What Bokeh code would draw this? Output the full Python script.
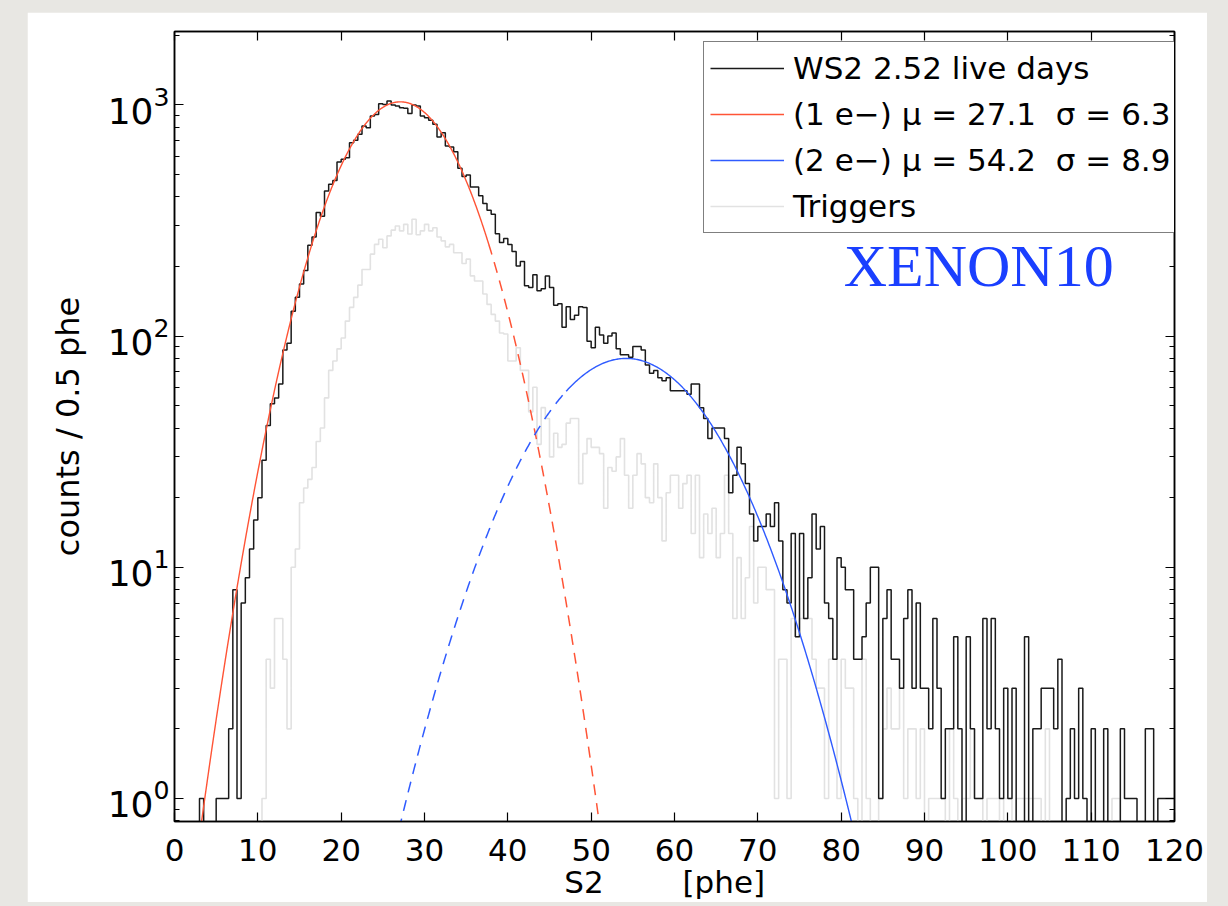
import numpy as np
from bokeh.plotting import figure
from bokeh.models import LinearAxis, LogAxis, FixedTicker, Legend, LegendItem, Label, Range1d
from bokeh.embed import file_html
from bokeh.resources import INLINE

# ---------------- data ----------------
bin_width = 0.5
x_lo, x_hi = 0, 120
y_lo, y_hi = 0.795, 2075

# WS2 2.52 live days : counts per 0.5 phe bin, bins start at 0.0, 0.5, ... 119.5
ws2_counts = [
    0, 0, 0, 0, 0, 0, 1, 0, 0, 0,
    1, 1, 1, 2, 8, 1, 7, 9, 12, 16,
    20, 29, 41, 51, 54, 62, 87, 93, 128, 147,
    168, 192, 247, 268, 342, 330, 424, 453, 471, 566,
    581, 590, 685, 702, 745, 809, 796, 894, 909, 1011,
    1004, 1038, 998, 989, 972, 967, 916, 998, 989, 894,
    879, 857, 824, 726, 757, 663, 657, 627, 531, 490,
    497, 441, 441, 404, 374, 350, 336, 277, 254, 264,
    249, 232, 201, 210, 165, 162, 184, 157, 160, 182,
    162, 136, 138, 109, 134, 118, 123, 134, 133, 95,
    89, 109, 101, 93, 100, 103, 88, 83, 83, 81,
    90, 90, 87, 75, 69, 71, 66, 64, 66, 58,
    58, 58, 58, 56, 62, 62, 49, 44, 36, 40,
    40, 40, 36, 21, 25, 33, 28, 23, 17, 13,
    15, 15, 17, 15, 19, 13, 8, 7, 14, 5,
    14, 6, 9, 17, 12, 15, 7, 6, 4, 11,
    10, 8, 8, 4, 4, 5, 7, 10, 10, 1,
    6, 8, 4, 4, 3, 6, 8, 3, 7, 3,
    3, 2, 6, 3, 1, 2, 2, 5, 2, 0,
    5, 2, 1, 1, 6, 2, 6, 2, 1, 3,
    1, 3, 0, 0, 5, 0, 2, 2, 3, 3,
    3, 2, 4, 0, 1, 2, 1, 3, 1, 0,
    2, 0, 0, 2, 0, 0, 0, 2, 1, 1,
    1, 0, 0, 2, 2, 0, 1, 1, 1, 1,
]

# Triggers : counts per 0.5 phe bin
trigger_counts = [
    0, 0, 0, 0, 0, 0, 0, 0, 0, 0,
    0, 0, 0, 0, 0, 0, 0, 0, 0, 0,
    0, 1, 4, 3, 6, 6, 4, 2, 10, 12,
    19, 22, 24, 27, 35, 40, 54, 71, 78, 88,
    98, 116, 133, 147, 166, 194, 194, 226, 249, 262,
    241, 271, 287, 299, 285, 304, 276, 320, 274, 285,
    304, 285, 294, 268, 258, 243, 249, 229, 229, 206,
    215, 182, 173, 173, 152, 137, 124, 116, 103, 102,
    78, 78, 89, 71, 71, 47, 60, 34, 49, 44,
    30, 38, 33, 34, 42, 44, 44, 23, 31, 36,
    33, 33, 31, 18, 27, 26, 30, 36, 25, 18,
    25, 31, 28, 20, 19, 28, 20, 13, 21, 25,
    25, 18, 23, 25, 14, 25, 11, 17, 14, 18,
    11, 14, 25, 14, 6, 11, 6, 9, 15, 7,
    10, 10, 8, 8, 1, 4, 4, 1, 6, 5,
    6, 6, 6, 4, 3, 3, 1, 4, 4, 1,
    4, 3, 3, 1, 0, 4, 1, 0, 0, 1,
    2, 3, 2, 2, 3, 1, 2, 2, 1, 2,
    0, 1, 1, 1, 1, 0, 2, 1, 0, 1,
    1, 2, 1, 1, 0, 1, 1, 1, 0, 1,
    1, 0, 1, 1, 1, 1, 1, 1, 0, 2,
    0, 0, 0, 0, 0, 0, 0, 0, 0, 0,
    0, 0, 0, 0, 0, 1, 1, 0, 0, 0,
    0, 0, 0, 0, 0, 0, 0, 0, 0, 0,
]

# Gaussian fits (1 e-, 2 e-)
fit_names = ["(1 e\u2212) \u03bc = 27.1 \u00a0\u03c3 = 6.3", "(2 e\u2212) \u03bc = 54.2 \u00a0\u03c3 = 8.9"]
fit_mu = [27.1, 54.2]
fit_sigma = [6.3, 8.9]
fit_amp = [1030.0, 80.0]
fit_solid_lo = [0.0, 47.0]      # fitted (solid) range
fit_solid_hi = [37.7, 120.0]
fit_dash_lo = [37.7, 15.0]      # extrapolated (dashed) range
fit_dash_hi = [60.0, 47.0]
fit_colors = ["#ff5436", "#2f5bff"]

x_ticks = list(range(0, 121, 10))
y_ticks = [1, 10, 100, 1000]
y_minor = [0.8, 0.9] + [m * 10 ** e for e in range(0, 4) for m in range(2, 10)]

FONT = "DejaVu Sans"

# ---------------- figure ----------------
p = figure(
    output_backend="svg", toolbar_location=None,
    frame_width=1000, frame_height=790,
    x_range=Range1d(x_lo, x_hi), y_range=Range1d(y_lo, y_hi),
    y_axis_type="log",
    min_border_left=147, min_border_top=19, min_border_right=33, min_border_bottom=76,
    background_fill_color="white", border_fill_color="white",
    outline_line_color="black", outline_line_width=1.5,
    margin=(12, 0, 0, 27),
)
p.grid.visible = False


def stairs(counts):
    c = np.maximum(np.asarray(counts, dtype=float), 1e-3)
    edges = x_lo + np.arange(len(c) + 1) * bin_width
    xs = np.repeat(edges, 2)[1:-1]
    ys = np.repeat(c, 2)
    return xs, ys


tx, ty = stairs(trigger_counts)
r_trig = p.line(tx, ty, line_color="#e2e2e2", line_width=1.6)
wx, wy = stairs(ws2_counts)
r_ws2 = p.line(wx, wy, line_color="#1a1a1a", line_width=1.5)

fit_renderers = []
for i in range(2):
    xd = np.linspace(fit_dash_lo[i], fit_dash_hi[i], 400)
    yd = fit_amp[i] * np.exp(-0.5 * ((xd - fit_mu[i]) / fit_sigma[i]) ** 2)
    p.line(xd, yd, line_color=fit_colors[i], line_width=1.5, line_dash="11 8")
    xs = np.linspace(fit_solid_lo[i], fit_solid_hi[i], 600)
    ys = fit_amp[i] * np.exp(-0.5 * ((xs - fit_mu[i]) / fit_sigma[i]) ** 2)
    fit_renderers.append(p.line(xs, ys, line_color=fit_colors[i], line_width=1.4))

# ---------------- axes ----------------
def style_axis(ax, show_labels=True):
    ax.axis_line_color = "black"
    ax.axis_line_width = 1.5
    ax.major_tick_in = 9
    ax.major_tick_out = 0
    ax.minor_tick_in = 5
    ax.minor_tick_out = 0
    ax.major_tick_line_color = "black"
    ax.minor_tick_line_color = "black"
    ax.major_tick_line_width = 1.2
    ax.minor_tick_line_width = 1.2
    ax.major_label_text_font = FONT
    ax.major_label_text_color = "black"
    ax.axis_label_text_font = FONT
    ax.axis_label_text_font_style = "normal"
    ax.axis_label_text_color = "black"
    if not show_labels:
        ax.major_label_text_font_size = "1px"
        ax.major_label_text_color = None
        ax.major_label_standoff = 0


xa = p.xaxis[0]
xa.ticker = FixedTicker(ticks=x_ticks)
style_axis(xa)
xa.minor_tick_line_color = None
xa.major_label_text_font_size = "31px"
xa.major_label_standoff = 17
xa.axis_label = "S2" + "\u00a0" * 8 + "[phe]" + "\u00a0" * 2
xa.axis_label_text_font_size = "31px"
xa.axis_label_standoff = 0

ya = p.yaxis[0]
ya.ticker = FixedTicker(ticks=y_ticks, minor_ticks=y_minor)
style_axis(ya)
ya.major_label_text_font_size = "36px"
ya.major_label_standoff = 5
ya.axis_label = "counts / 0.5 phe"
ya.axis_label_text_font_size = "32px"
ya.axis_label_standoff = 18

top = LinearAxis(ticker=FixedTicker(ticks=x_ticks))
style_axis(top, show_labels=False)
top.minor_tick_line_color = None
p.add_layout(top, "above")

right = LogAxis(ticker=FixedTicker(ticks=y_ticks, minor_ticks=y_minor))
style_axis(right, show_labels=False)
p.add_layout(right, "right")

# ---------------- legend ----------------
legend = Legend(
    items=[
        LegendItem(label="WS2 2.52 live days", renderers=[r_ws2]),
        LegendItem(label=fit_names[0], renderers=[fit_renderers[0]]),
        LegendItem(label=fit_names[1], renderers=[fit_renderers[1]]),
        LegendItem(label="Triggers", renderers=[r_trig]),
    ],
    location=(529, 588),
    label_text_font=FONT, label_text_font_size="31px", label_text_color="black",
    glyph_width=74, glyph_height=40, label_height=40, label_standoff=9,
    spacing=6, padding=6, margin=0,
    border_line_color="black", border_line_width=1.5,
    background_fill_color="white", background_fill_alpha=1.0,
)
p.add_layout(legend)

p.add_layout(Label(x=80.3, y=200, text="XENON10", text_font="Liberation Serif",
                   text_font_size="60px", text_color="#1a3fff", text_baseline="alphabetic"))

html = file_html(p, INLINE, title="XENON10 S2 spectrum")
style = "<style>html, body {background:#e8e7e3 !important; margin:0 !important; overflow:hidden;}</style>"
html = html.replace("</head>", style + "</head>", 1)
open("out.html", "w").write(html)
